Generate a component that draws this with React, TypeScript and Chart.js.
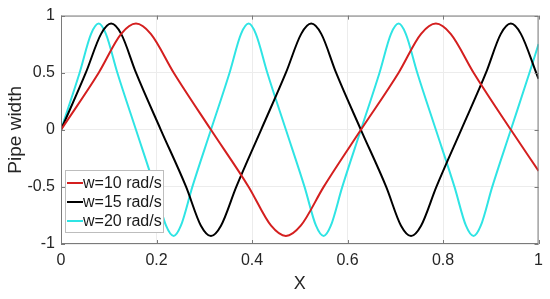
import React, { useEffect, useRef } from "react";
import { Chart, registerables } from "chart.js";

Chart.register(...registerables);

const seriesLabels = ["w=10 rad/s", "w=15 rad/s", "w=20 rad/s"];
const seriesColors = ["#d41f1f", "#000000", "#2fe4e4"];

const redX = [0, 0.079, 0.126, 0.157, 0.188, 0.236, 0.314, 0.393, 0.44, 0.471, 0.502, 0.55, 0.628, 0.707, 0.754, 0.785, 0.816, 0.864, 0.942, 1.0];
const redY = [0, 0.5, 0.84, 0.93, 0.84, 0.5, 0, -0.5, -0.84, -0.93, -0.84, -0.5, 0, 0.5, 0.84, 0.93, 0.84, 0.5, 0, -0.36];

const blackX = [0, 0.052, 0.084, 0.105, 0.126, 0.157, 0.209, 0.262, 0.293, 0.314, 0.335, 0.367, 0.419, 0.471, 0.503, 0.524, 0.545, 0.576, 0.628, 0.681, 0.712, 0.733, 0.754, 0.786, 0.838, 0.89, 0.921, 0.942, 0.963, 0.995, 1.0];
const blackY = [0, 0.5, 0.84, 0.93, 0.84, 0.5, 0, -0.5, -0.84, -0.93, -0.84, -0.5, 0, 0.5, 0.84, 0.93, 0.84, 0.5, 0, -0.5, -0.84, -0.93, -0.84, -0.5, 0, 0.5, 0.84, 0.93, 0.84, 0.5, 0.445];

const cyanX = [0, 0.039, 0.063, 0.079, 0.094, 0.118, 0.157, 0.196, 0.22, 0.236, 0.251, 0.275, 0.314, 0.353, 0.377, 0.393, 0.408, 0.432, 0.471, 0.51, 0.534, 0.55, 0.565, 0.589, 0.628, 0.667, 0.691, 0.707, 0.722, 0.746, 0.785, 0.824, 0.848, 0.864, 0.879, 0.903, 0.942, 0.981, 1.0];
const cyanY = [0, 0.5, 0.84, 0.93, 0.84, 0.5, 0, -0.5, -0.84, -0.93, -0.84, -0.5, 0, 0.5, 0.84, 0.93, 0.84, 0.5, 0, -0.5, -0.84, -0.93, -0.84, -0.5, 0, 0.5, 0.84, 0.93, 0.84, 0.5, 0, -0.5, -0.84, -0.93, -0.84, -0.5, 0, 0.5, 0.75];

const xTicks = [0, 0.2, 0.4, 0.6, 0.8, 1];
const yTicks = [-1, -0.5, 0, 0.5, 1];

const FONT = "'Liberation Sans', Arial, sans-serif";

const toPts = (xs: number[], ys: number[]) => xs.map((x, i) => ({ x, y: ys[i] }));

const boxPlugin = {
  id: "boxTicks",
  afterDatasetsDraw(chart: any) {
    const { ctx, chartArea: a, scales } = chart;
    ctx.save();
    ctx.strokeStyle = "#7a7a7a";
    ctx.lineWidth = 1;
    ctx.strokeRect(a.left + 0.5, a.top + 0.5, a.right - a.left - 1, a.bottom - a.top - 1);
    const len = 4;
    ctx.beginPath();
    xTicks.forEach((v) => {
      const px = Math.round(scales.x.getPixelForValue(v)) + 0.5;
      ctx.moveTo(px, a.bottom);
      ctx.lineTo(px, a.bottom - len);
      ctx.moveTo(px, a.top);
      ctx.lineTo(px, a.top + len);
    });
    yTicks.forEach((v) => {
      const py = Math.round(scales.y.getPixelForValue(v)) + 0.5;
      ctx.moveTo(a.left, py);
      ctx.lineTo(a.left + len, py);
      ctx.moveTo(a.right, py);
      ctx.lineTo(a.right - len, py);
    });
    ctx.stroke();
    ctx.restore();
  },
  afterDraw(chart: any) {
    const { ctx, chartArea: a } = chart;
    ctx.save();
    const bx = a.left + 4;
    const by = 170;
    const bw = 98;
    const bh = 62;
    ctx.fillStyle = "#ffffff";
    ctx.fillRect(bx, by, bw, bh);
    ctx.strokeStyle = "#bdbdbd";
    ctx.lineWidth = 1;
    ctx.strokeRect(bx + 0.5, by + 0.5, bw, bh);
    ctx.font = `16px ${FONT}`;
    ctx.textBaseline = "middle";
    ctx.textAlign = "left";
    seriesLabels.forEach((lab, i) => {
      const y = by + 13 + i * 19;
      ctx.strokeStyle = seriesColors[i];
      ctx.lineWidth = 2;
      ctx.beginPath();
      ctx.moveTo(bx + 2, y);
      ctx.lineTo(bx + 18, y);
      ctx.stroke();
      ctx.fillStyle = "#1a1a1a";
      ctx.fillText(lab, bx + 18, y + 1);
    });
    ctx.restore();
  },
};

export default function App() {
  const ref = useRef<HTMLCanvasElement | null>(null);
  useEffect(() => {
    document.body.style.margin = "0";
    const canvas = ref.current!;
    const mk = (i: number, xs: number[], ys: number[]) => ({
      label: seriesLabels[i],
      data: toPts(xs, ys),
      borderColor: seriesColors[i],
      backgroundColor: seriesColors[i],
      borderWidth: 2,
      pointRadius: 0,
      showLine: true,
      cubicInterpolationMode: "monotone" as const,
      fill: false,
    });
    const chart = new Chart(canvas, {
      type: "scatter",
      data: {
        datasets: [mk(0, redX, redY), mk(1, blackX, blackY), mk(2, cyanX, cyanY)],
      },
      plugins: [boxPlugin],
      options: {
        animation: false,
        responsive: false,
        maintainAspectRatio: false,
        layout: { padding: { left: 0, right: 7, top: 13, bottom: 0 } },
        plugins: { legend: { display: false }, tooltip: { enabled: false } },
        scales: {
          x: {
            type: "linear",
            min: 0,
            max: 1,
            afterBuildTicks: (s: any) => {
              s.ticks = xTicks.map((v) => ({ value: v }));
            },
            afterFit: (s: any) => {
              s.height = 55;
            },
            ticks: {
              font: { family: FONT, size: 16 },
              color: "#262626",
              padding: 7,
              maxRotation: 0,
              callback: (v: any) => String(Number(v)),
            },
            grid: { color: "#ececec", drawTicks: false, lineWidth: 1 },
            border: { display: false },
            title: {
              display: true,
              text: "X",
              font: { family: FONT, size: 18 },
              color: "#262626",
              padding: { top: 0, bottom: 4 },
            },
          },
          y: {
            type: "linear",
            min: -1,
            max: 1,
            afterBuildTicks: (s: any) => {
              s.ticks = yTicks.map((v) => ({ value: v }));
            },
            afterFit: (s: any) => {
              s.width = 61;
            },
            ticks: {
              font: { family: FONT, size: 16 },
              color: "#262626",
              padding: 6,
              callback: (v: any) => String(Number(v)),
            },
            grid: { color: "#ececec", drawTicks: false, lineWidth: 1 },
            border: { display: false },
            title: {
              display: true,
              text: "Pipe width",
              font: { family: FONT, size: 19 },
              color: "#262626",
              padding: { top: 4, bottom: 0 },
            },
          },
        },
      },
    });
    return () => chart.destroy();
  }, []);
  return (
    <div style={{ width: 550, height: 299, background: "#fff" }}>
      <canvas ref={ref} width={550} height={299} style={{ display: "block" }} />
    </div>
  );
}
